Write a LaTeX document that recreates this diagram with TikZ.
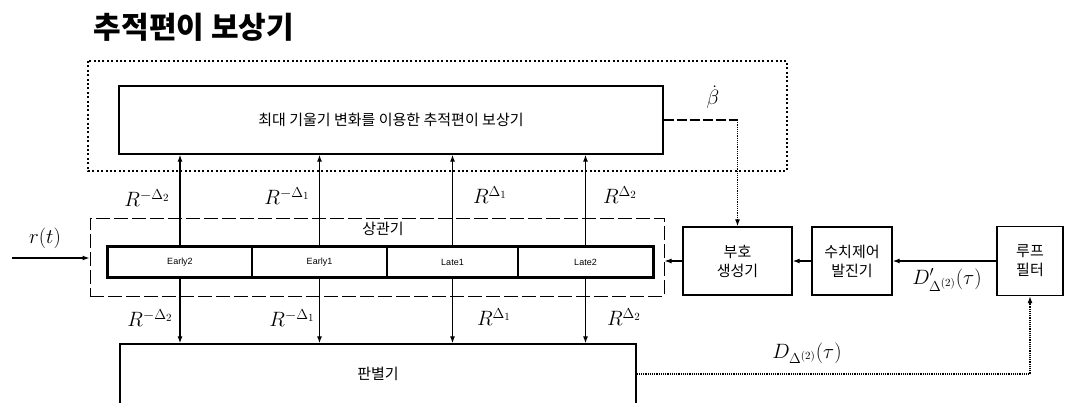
\documentclass[tikz,border=0pt]{standalone}
\usepackage{fontspec}
\setmainfont{Liberation Sans}
\newfontfamily\kr{Noto Sans CJK KR}
\usetikzlibrary{arrows.meta}

\tikzset{
  blk/.style={draw, line width=1.3pt, align=center, inner sep=0pt,
    font=\kr\fontsize{15}{19}\selectfont},
  cell/.style={draw, line width=1.2pt, minimum height=30, minimum width=#1,
    inner sep=0pt, font=\fontsize{9}{11}\selectfont},
  arr/.style={line width=1.2pt, -{Latex[length=7pt,width=5pt]}},
  sig/.style={font=\fontsize{21}{24}\selectfont, inner sep=0pt},
}

\begin{document}
\begin{tikzpicture}[x=1pt, y=-1pt]
\useasboundingbox (0,0) rectangle (1065,402);
\clip (0,0) rectangle (1065,402);

% title
\node[font=\kr\bfseries\fontsize{30}{34}\selectfont] (title) at (194,27) {추적편이 보상기};

% compensator
\draw[line width=2.4pt, dash pattern=on 2pt off 2.4pt] (88,61) rectangle (787,171);
\node[blk, minimum width=544, minimum height=68] (comp) at (391,120) {최대 기울기 변화를 이용한 추적편이 보상기};

% correlator
\node[draw, line width=1pt, dash pattern=on 14pt off 4pt, minimum width=574, minimum height=78] (corr) at (377,257) {};
\node[font=\kr\fontsize{15}{18}\selectfont] (corrlbl) at (383,229) {상관기};
\node[cell=144] (e2) at (180,262) {Early2};
\node[cell=135] (e1) at (319.5,262) {Early1};
\node[cell=131] (l1) at (452.5,262) {Late1};
\node[cell=135] (l2) at (585.5,262) {Late2};
\draw[line width=3.5pt] (e2.north west) rectangle (l2.south east);

% discriminator
\node[blk, minimum width=516, minimum height=60] (disc) at (378,374) {판별기};

% correlator outputs
\draw[arr] (e2.north) -- (e2.north |- comp.south);
\draw[arr] (e1.north) -- (e1.north |- comp.south);
\draw[arr] (l1.north) -- (l1.north |- comp.south);
\draw[arr] (l2.north) -- (l2.north |- comp.south);
\node[sig] (ua) at (147,198) {$R^{-\Delta_2}$};
\node[sig] (ub) at (287,196) {$R^{-\Delta_1}$};
\node[sig] (uc) at (490,195) {$R^{\Delta_1}$};
\node[sig] (ud) at (620,195) {$R^{\Delta_2}$};

\draw[arr] (e2.south) -- (e2.south |- disc.north);
\draw[arr] (e1.south) -- (e1.south |- disc.north);
\draw[arr] (l1.south) -- (l1.south |- disc.north);
\draw[arr] (l2.south) -- (l2.south |- disc.north);
\node[sig] (da) at (150,318) {$R^{-\Delta_2}$};
\node[sig] (db) at (292,318) {$R^{-\Delta_1}$};
\node[sig] (dc) at (494,317) {$R^{\Delta_1}$};
\node[sig] (dd) at (624,317) {$R^{\Delta_2}$};

% input
\node[sig] (rin) at (45,238) {$r(t)$};
\coordinate (src) at (12,258);
\draw[arr] (src) -- (corr.west |- src);

% loop
\node[blk, minimum width=109, minimum height=68] (sg) at (737.5,261) {부호\\생성기};
\node[blk, minimum width=80, minimum height=68] (nco) at (852,261) {수치제어\\발진기};
\node[blk, minimum width=66, minimum height=69] (lf) at (1030,261) {루프\\필터};

\draw[arr] (sg.west) -- (corr.east |- sg.west);
\draw[arr] (nco.west) -- (sg.east);
\draw[arr] (lf.west) -- (nco.east);
\draw[arr, densely dotted] (disc.east) -| (lf.south);

\coordinate (bc) at (sg.north |- comp.east);
\draw[line width=1.2pt, dash pattern=on 10pt off 3pt] (comp.east) -- (bc);
\draw[arr, densely dotted] (bc) -- (sg.north);

\node[sig] (beta) at (713,97) {$\dot{\beta}$};
\node[sig] (dpr) at (947,280) {$D'_{\Delta^{(2)}}(\tau)$};
\node[sig] (dsc) at (807,353) {$D_{\Delta^{(2)}}(\tau)$};
\end{tikzpicture}
\end{document}
